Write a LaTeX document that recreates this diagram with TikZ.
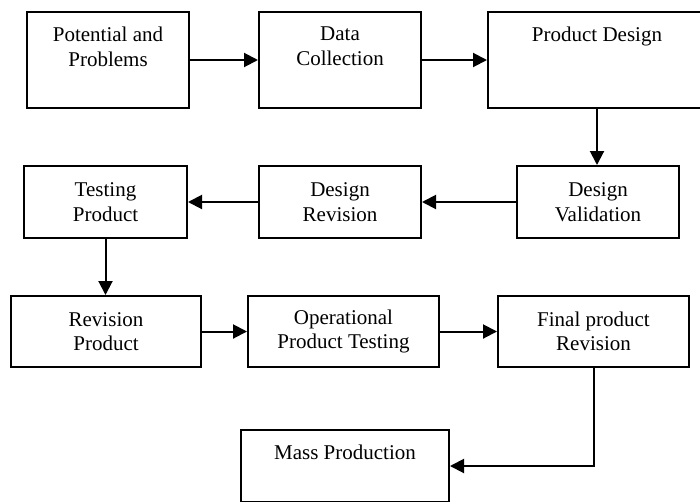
\documentclass[tikz,border=0pt]{standalone}
\usepackage{fontspec}
\setmainfont{Liberation Serif}
\usetikzlibrary{arrows.meta,calc}
\begin{document}
\begin{tikzpicture}[x=1pt,y=-1pt,
  box/.style={draw, line width=2pt, inner sep=0pt, align=center, font=\fontsize{21}{24.5}\selectfont},
  txt/.style={inner sep=0pt, align=center, font=\fontsize{21}{24.5}\selectfont, anchor=north},
  arr/.style={line width=2pt, -{Triangle[length=14pt,width=14pt]}},
  ln/.style={line width=2pt}]
\useasboundingbox (0,0) rectangle (700,501);
\clip (0,0) rectangle (700,501);
% boxes
\node[box, minimum width=162pt, minimum height=96pt] (b1) at (108,60) {};
\node[box, minimum width=162pt, minimum height=96pt] (b2) at (340,60) {};
\node[box, minimum width=218pt, minimum height=96pt] (b3) at (597,60) {};
\node[box, minimum width=162pt, minimum height=72pt] (b4) at (598,202) {Design\\Validation};
\node[box, minimum width=162pt, minimum height=72pt] (b5) at (340,202) {Design\\Revision};
\node[box, minimum width=163pt, minimum height=72pt] (b6) at (105.5,202) {Testing\\Product};
\node[box, minimum width=190pt, minimum height=71pt] (b7) at (106,331.5) {Revision\\Product};
\node[box, minimum width=191pt, minimum height=71pt] (b8) at (343.5,331.5) {Operational\\Product Testing};
\node[box, minimum width=191pt, minimum height=71pt] (b9) at (593.5,331.5) {Final product\\Revision};
\node[box, minimum width=208pt, minimum height=72pt] (b10) at (345,466) {};
% top-aligned texts
\node[txt] (t1) at ([yshift=-16pt]b1.north) {Potential and\\Problems};
\node[txt] (t2) at ([yshift=-16pt]b2.north) {Data\\Collection};
\node[txt] (t3) at ([yshift=-16pt]b3.north) {Product Design};
\node[txt] (t10) at ([yshift=-16pt]b10.north) {Mass Production};
% connectors
\draw[arr] (b1) -- (b2);
\draw[arr] (b2) -- (b3);
\draw[arr] (b3.south) -- (b3.south |- b4.north);
\draw[arr] (b4) -- (b5);
\draw[arr] (b5) -- (b6);
\draw[arr] (b6.south) -- (b6.south |- b7.north);
\draw[arr] (b7) -- (b8);
\draw[arr] (b8) -- (b9);
\draw[arr] (b9.south) |- (b10.east);
\end{tikzpicture}
\end{document}
